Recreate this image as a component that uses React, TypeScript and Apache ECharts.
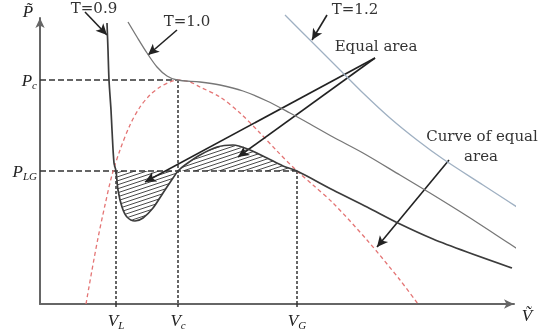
import React, { useEffect, useRef } from 'react';
import * as echarts from 'echarts';

// Characteristic values (V, P in diagram units)
const VL = 76;
const Vc = 138;
const VG = 257;
const Pc = 224;
const PLG = 133;

const xTickValues = [VL, Vc, VG];
const xTickLabels = ['{v|V}{s|L}', '{v|V}{s|c}', '{v|V}{s|G}'];
const yTickValues = [PLG, Pc];
const yTickLabels = ['{v|P}{s|LG}', '{v|P}{s|c}'];

// Isotherm T = 0.9
const t09: number[][] = [
  [67, 281], [68, 254], [69, 224], [71, 194], [72, 174], [74, 141], [76, 133],
  [78, 114], [82, 97], [87, 87], [95, 83], [103, 86], [113, 96], [123, 111],
  [133, 126], [138, 133], [145, 139], [160, 149], [177, 157], [193, 159],
  [210, 154], [227, 146], [243, 138], [257, 133], [293, 114], [327, 97],
  [360, 80], [393, 65], [427, 52], [472, 36],
];

// Isotherm T = 1.0 (critical)
const t10: number[][] = [
  [88, 282], [97, 267], [107, 251], [117, 237], [127, 228], [137, 224],
  [160, 222], [180, 219], [203, 213], [227, 203], [250, 191], [270, 180],
  [293, 167], [323, 151], [360, 129], [390, 111], [427, 88], [470, 60],
  [513, 32],
];

// Isotherm T = 1.2
const t12: number[][] = [
  [245, 289], [270, 264], [300, 234], [323, 211], [350, 186], [377, 164],
  [403, 145], [443, 119], [477, 97], [513, 74],
];

// Curve of equal area (coexistence curve)
const equalArea: number[][] = [
  [46, 0], [52, 34], [58, 66], [65, 99], [72, 129], [80, 154], [90, 179],
  [100, 197], [110, 209], [120, 217], [130, 222], [138, 224], [150, 222],
  [160, 217], [180, 207], [200, 191], [220, 171], [237, 153], [257, 133],
  [273, 119], [293, 101], [327, 64], [360, 24], [378, 0],
];

// Annotation arrows in diagram units: [from, to]
const arrows: number[][][] = [
  [[137, 274], [108, 249]],
  [[335, 246], [105, 122]],
  [[335, 246], [198, 147]],
  [[409, 144], [337, 57]],
];
// Arrows above the plot area, in pixels: [from, to]
const topArrows: number[][][] = [
  [[85, 12], [107, 35]],
  [[327, 15], [312, 40]],
];

const hatchPoints: number[][] = t09.filter((p) => p[0] >= VL && p[0] <= VG);

const serif = '"DejaVu Serif", serif';
const mathFont = '"Liberation Serif", serif';

export default function App() {
  const ref = useRef<HTMLDivElement>(null);

  useEffect(() => {
    if (!ref.current) return;
    const chart = echarts.init(ref.current, undefined, { renderer: 'svg' });

    const tile = document.createElement('canvas');
    tile.width = 12;
    tile.height = 4;
    const ctx = tile.getContext('2d');
    if (ctx) {
      ctx.strokeStyle = '#4a4a4a';
      ctx.lineWidth = 1;
      ctx.beginPath();
      ctx.moveTo(-12, 8);
      ctx.lineTo(24, -4);
      ctx.moveTo(-12, 4);
      ctx.lineTo(24, -8);
      ctx.moveTo(-12, 12);
      ctx.lineTo(24, 0);
      ctx.stroke();
    }

    const guide = (data: number[][], dash: number[]) => ({
      type: 'line',
      data,
      symbol: 'none',
      silent: true,
      clip: false,
      z: 3,
      lineStyle: { color: '#333', width: 1.5, type: dash },
    });

    const richV = {
      v: { fontFamily: mathFont, fontStyle: 'italic', fontSize: 17, color: '#222' },
      s: { fontFamily: mathFont, fontStyle: 'italic', fontSize: 11, color: '#222', padding: [9, 0, 0, 0] },
    };

    const curve = (name: string, data: number[][], color: string, width: number, z: number, type: any = 'solid') => ({
      type: 'line',
      name,
      data,
      symbol: 'none',
      smooth: 0.3,
      clip: false,
      z,
      lineStyle: { color, width, type },
    });

    chart.setOption({
      animation: false,
      grid: { left: 40, top: 18, right: 39, bottom: 29 },
      xAxis: {
        type: 'value',
        min: 0,
        max: 474,
        splitLine: { show: false },
        axisLine: {
          show: true,
          symbol: ['none', 'arrow'],
          symbolSize: [7, 10],
          lineStyle: { color: '#666', width: 2 },
        },
        axisTick: { show: true, customValues: xTickValues, length: 3, lineStyle: { color: '#333', width: 1.5 } },
        axisLabel: {
          customValues: xTickValues,
          margin: 6,
          formatter: (v: number) => xTickLabels[xTickValues.indexOf(v)] ?? '',
          rich: richV,
        },
      },
      yAxis: {
        type: 'value',
        min: 0,
        max: 286,
        splitLine: { show: false },
        axisLine: {
          show: true,
          symbol: ['none', 'arrow'],
          symbolSize: [7, 10],
          lineStyle: { color: '#666', width: 2 },
        },
        axisTick: { show: false },
        axisLabel: {
          customValues: yTickValues,
          margin: 3,
          formatter: (v: number) => yTickLabels[yTickValues.indexOf(v)] ?? '',
          rich: richV,
        },
      },
      series: [
        {
          type: 'custom',
          name: 'hatch',
          silent: true,
          z: 1,
          data: [[VL, PLG]],
          renderItem: (_params: any, api: any) => ({
            type: 'polygon',
            shape: { points: hatchPoints.map((p) => api.coord(p)) },
            style: { fill: { image: tile, repeat: 'repeat' }, stroke: 'none' },
          }),
        },
        guide([[0, Pc], [Vc, Pc]], [6, 3]),
        guide([[Vc, Pc], [Vc, 0]], [3, 2]),
        guide([[0, PLG], [VG, PLG]], [6, 3]),
        guide([[VL, PLG], [VL, 0]], [3, 2]),
        guide([[VG, PLG], [VG, 0]], [3, 2]),
        curve('Curve of equal area', equalArea, '#e47575', 1.3, 4, [4, 3]),
        curve('T=1.2', t12, '#9fb0c2', 1.3, 5),
        curve('T=1.0', t10, '#777', 1.3, 5),
        {
          ...curve('T=0.9', t09, '#3c3c3c', 1.7, 6),
          markLine: {
            silent: true,
            symbol: ['none', 'arrow'],
            symbolSize: [8, 11],
            label: { show: false },
            lineStyle: { color: '#222', width: 1.6, type: 'solid' },
            data: [
              ...arrows.map((a) => [{ coord: a[0] }, { coord: a[1] }]),
              ...topArrows.map((a) => [{ x: a[0][0], y: a[0][1] }, { x: a[1][0], y: a[1][1] }]),
            ],
          },
        },
      ],
      graphic: [
        { type: 'text', x: 94, y: 8, style: { text: 'T=0.9', font: `15px ${serif}`, fill: '#333', align: 'center', verticalAlign: 'middle' } },
        { type: 'text', x: 187, y: 21, style: { text: 'T=1.0', font: `15px ${serif}`, fill: '#333', align: 'center', verticalAlign: 'middle' } },
        { type: 'text', x: 355, y: 9, style: { text: 'T=1.2', font: `15px ${serif}`, fill: '#333', align: 'center', verticalAlign: 'middle' } },
        { type: 'text', x: 376, y: 46, style: { text: 'Equal area', font: `15px ${serif}`, fill: '#333', align: 'center', verticalAlign: 'middle' } },
        { type: 'text', x: 482, y: 136, style: { text: 'Curve of equal', font: `15px ${serif}`, fill: '#333', align: 'center', verticalAlign: 'middle' } },
        { type: 'text', x: 481, y: 156, style: { text: 'area', font: `15px ${serif}`, fill: '#333', align: 'center', verticalAlign: 'middle' } },
        { type: 'text', x: 28, y: 11, style: { text: 'P\u0303', font: `italic 17px ${mathFont}`, fill: '#222', align: 'center', verticalAlign: 'middle' } },
        { type: 'text', x: 527, y: 315, style: { text: 'V\u0303', font: `italic 17px ${mathFont}`, fill: '#222', align: 'center', verticalAlign: 'middle' } },
      ],
    });

    return () => chart.dispose();
  }, []);

  return <div ref={ref} style={{ position: 'fixed', left: 0, top: 0, width: 553, height: 333 }} />;
}
